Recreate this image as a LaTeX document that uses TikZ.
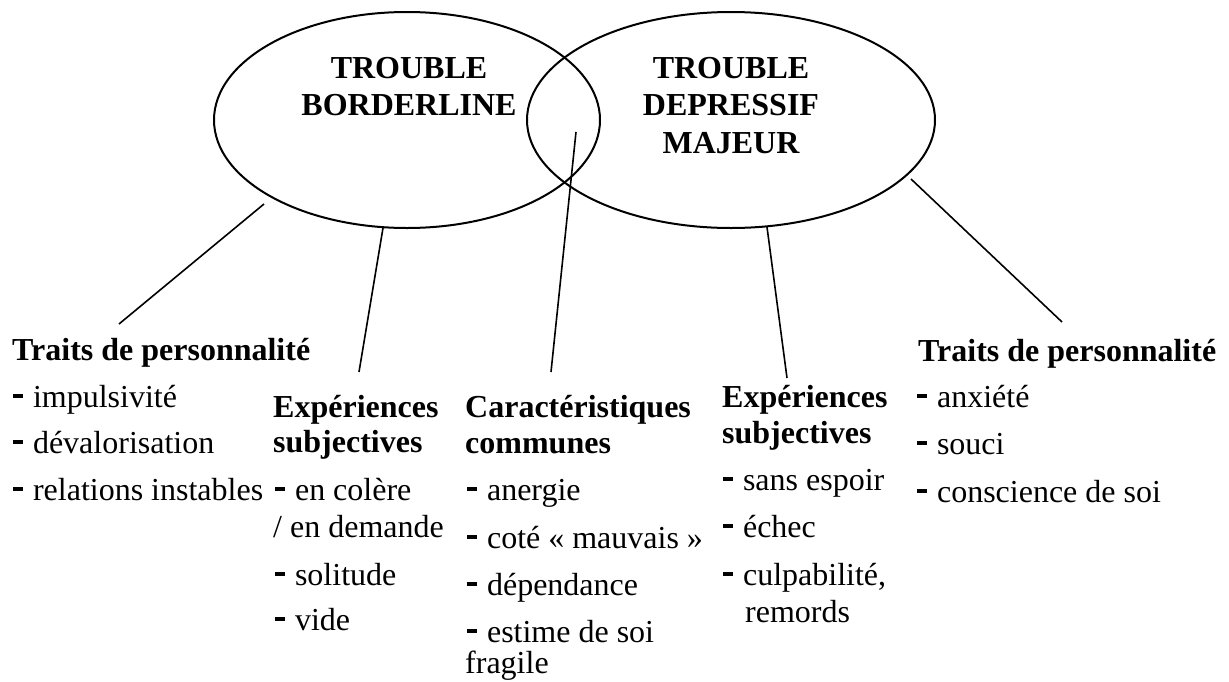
\documentclass[tikz,border=0pt]{standalone}
\usepackage{fontspec}
\setmainfont{Liberation Serif}
\usetikzlibrary{shapes.geometric}
\newcommand{\dsh}{\rule[0.28em]{0.31em}{0.14em}\hspace{0.31em}}
\begin{document}
\begin{tikzpicture}[x=1pt,y=-1pt,
  txt/.style={anchor=base west, inner sep=0pt, font=\fontsize{32}{38}\selectfont},
  hd/.style={anchor=base west, inner sep=0pt, font=\fontsize{32}{38}\selectfont\bfseries},
  ttl/.style={anchor=base, inner sep=0pt, font=\fontsize{32}{37}\selectfont\bfseries},
  oval/.style={draw, ellipse, line width=2pt, inner sep=0pt, minimum height=216pt},
  link/.style={line width=1.6pt}]
\useasboundingbox (0,0) rectangle (1229,681);
\clip (0,0) rectangle (1229,681);

% ellipses
\node[oval, minimum width=386pt] (bl) at (407,120) {};
\node[oval, minimum width=408pt] (dm) at (731,120) {};

% titles
\node[ttl] (blt1) at (409,78) {TROUBLE};
\node[ttl] (blt2) at (409,115) {BORDERLINE};
\node[ttl] (dmt1) at (731,78) {TROUBLE};
\node[ttl] (dmt2) at (731,115) {DEPRESSIF};
\node[ttl] (dmt3) at (731,153) {MAJEUR};

% connector end points
\coordinate (c1a) at (264,204); \coordinate (c1b) at (119,324);
\coordinate (c2a) at (383,228); \coordinate (c2b) at (359,372);
\coordinate (c3a) at (576,132); \coordinate (c3b) at (551,372);
\coordinate (c4a) at (767,227); \coordinate (c4b) at (787,378);
\coordinate (c5a) at (911,179); \coordinate (c5b) at (1062,322);
\draw[link] (c1a) -- (c1b);
\draw[link] (c2a) -- (c2b);
\draw[link] (c3a) -- (c3b);
\draw[link] (c4a) -- (c4b);
\draw[link] (c5a) -- (c5b);

% left traits
\node[hd] (lt0) at (12,360) {Traits de personnalité};
\node[txt] (lt1) at (13,407) {\dsh impulsivité};
\node[txt] (lt2) at (13,453) {\dsh dévalorisation};
\node[txt] (lt3) at (13,500) {\dsh relations instables};

% left experiences
\node[hd] (le0) at (273,417) {Expériences};
\node[hd] (le1) at (273,452) {subjectives};
\node[txt] (le2) at (275,500) {\dsh en colère};
\node[txt] (le3) at (273,537) {/ en demande};
\node[txt] (le4) at (275,585) {\dsh solitude};
\node[txt] (le5) at (275,630) {\dsh vide};

% middle
\node[hd] (mc0) at (465,417) {Caractéristiques};
\node[hd] (mc1) at (465,453) {communes};
\node[txt] (mc2) at (467,500) {\dsh anergie};
\node[txt] (mc3) at (467,548) {\dsh coté « mauvais »};
\node[txt] (mc4) at (467,595) {\dsh dépendance};
\node[txt] (mc5) at (467,642) {\dsh estime de soi};
\node[txt] (mc6) at (465,673) {fragile};

% right experiences
\node[hd] (re0) at (722,407) {Expériences};
\node[hd] (re1) at (722,443) {subjectives};
\node[txt] (re2) at (723,490) {\dsh sans espoir};
\node[txt] (re3) at (723,537) {\dsh échec};
\node[txt] (re4) at (723,585) {\dsh culpabilité,};
\node[txt] (re5) at (745,622) {remords};

% right traits
\node[hd] (rt0) at (918,361) {Traits de personnalité};
\node[txt] (rt1) at (917,407) {\dsh anxiété};
\node[txt] (rt2) at (917,454) {\dsh souci};
\node[txt] (rt3) at (917,502) {\dsh conscience de soi};
\end{tikzpicture}
\end{document}
